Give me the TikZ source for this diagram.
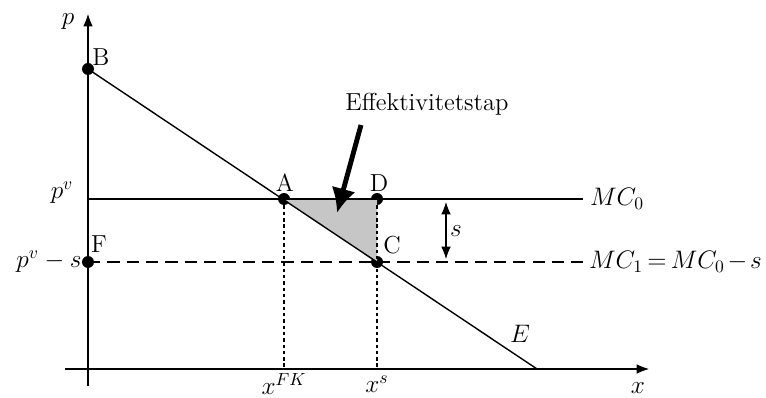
\documentclass[tikz,border=0pt]{standalone}
\usepackage{amsmath}
\usepackage{tikz}
\usetikzlibrary{positioning,arrows,arrows.meta}

\begin{document}
\begin{tikzpicture}[x=0.02cm,y=-0.02cm,>={Latex[length=7pt,width=5.5pt]},
  dot/.style={circle,fill,inner sep=0pt,minimum size=0.24cm},
  lbl/.style={font=\fontsize{14}{16}\selectfont,inner sep=1pt},
  guide/.style={dash pattern=on 2pt off 1.6pt,semithick}]
\useasboundingbox (0,0) rectangle (766,398);
% axes
\coordinate (ybot) at (88,386);
\coordinate (ytip) at (88,14);
\coordinate (xbot) at (65,369);
\coordinate (xtip) at (649,369);
\coordinate (Ex) at (537,369);
\coordinate (Ax) at (284,369);
\coordinate (Cx) at (377,369);
\coordinate (mc0) at (583,199);
\coordinate (mc1) at (583,262);
\coordinate (s0) at (446,202);
\coordinate (s1) at (446,259);
% points
\node[dot] (B) at (88,69) {};
\node[dot] (A) at (284,199) {};
\node[dot] (D) at (377,199) {};
\node[dot] (C) at (377,262) {};
\node[dot] (F) at (88,262) {};
% loss triangle
\fill[gray!45] (A.center) -- (D.center) -- (C.center) -- cycle;
\draw[semithick,->] (ybot) -- (ytip);
\draw[semithick,->] (xbot) -- (xtip);
\draw[semithick] (F.center |- A.center) -- (mc0);
\draw[semithick,dash pattern=on 7pt off 4pt] (F.center) -- (mc1);
\draw[thick] (B.center) -- (Ex);
\draw[guide] (A) -- (Ax);
\draw[guide] (D) -- (Cx);
\draw[semithick,<->] (s0) -- (s1);
% labels
\node[lbl] (lp) at (68,22) {$p$};
\node[lbl] (lB) at (101,57) {B};
\node[lbl] (lA) at (285,183) {A};
\node[lbl] (lD) at (379,183) {D};
\node[lbl] (lC) at (392,245) {C};
\node[lbl] (lF) at (99,244) {F};
\node[lbl] (lpv) at (62,193) {$p^{v}$};
\node[lbl] (lpvs) at (49,262) {$p^{v}-s$};
\node[lbl] (lxfk) at (284,384) {$x^{FK}$};
\node[lbl] (lxs) at (377,384) {$x^{s}$};
\node[lbl] (lx) at (638,388) {$x$};
\node[lbl] (lE) at (520,334) {$E$};
\node[lbl] (ls) at (456,231) {$s$};
\node[lbl,anchor=west] (lmc0) at (588,199) {$MC_0$};
\node[lbl,anchor=west] (lmc1) at (587,262)
  {$\thickmuskip=3mu \medmuskip=2mu MC_1 = MC_0 - s$};
\node[lbl] (eff) at (427,104) {Effektivitetstap};
\draw[line width=2.8pt,-{Latex[length=14pt,width=14pt]}] (361,125) -- (337,213);
\end{tikzpicture}
\end{document}
